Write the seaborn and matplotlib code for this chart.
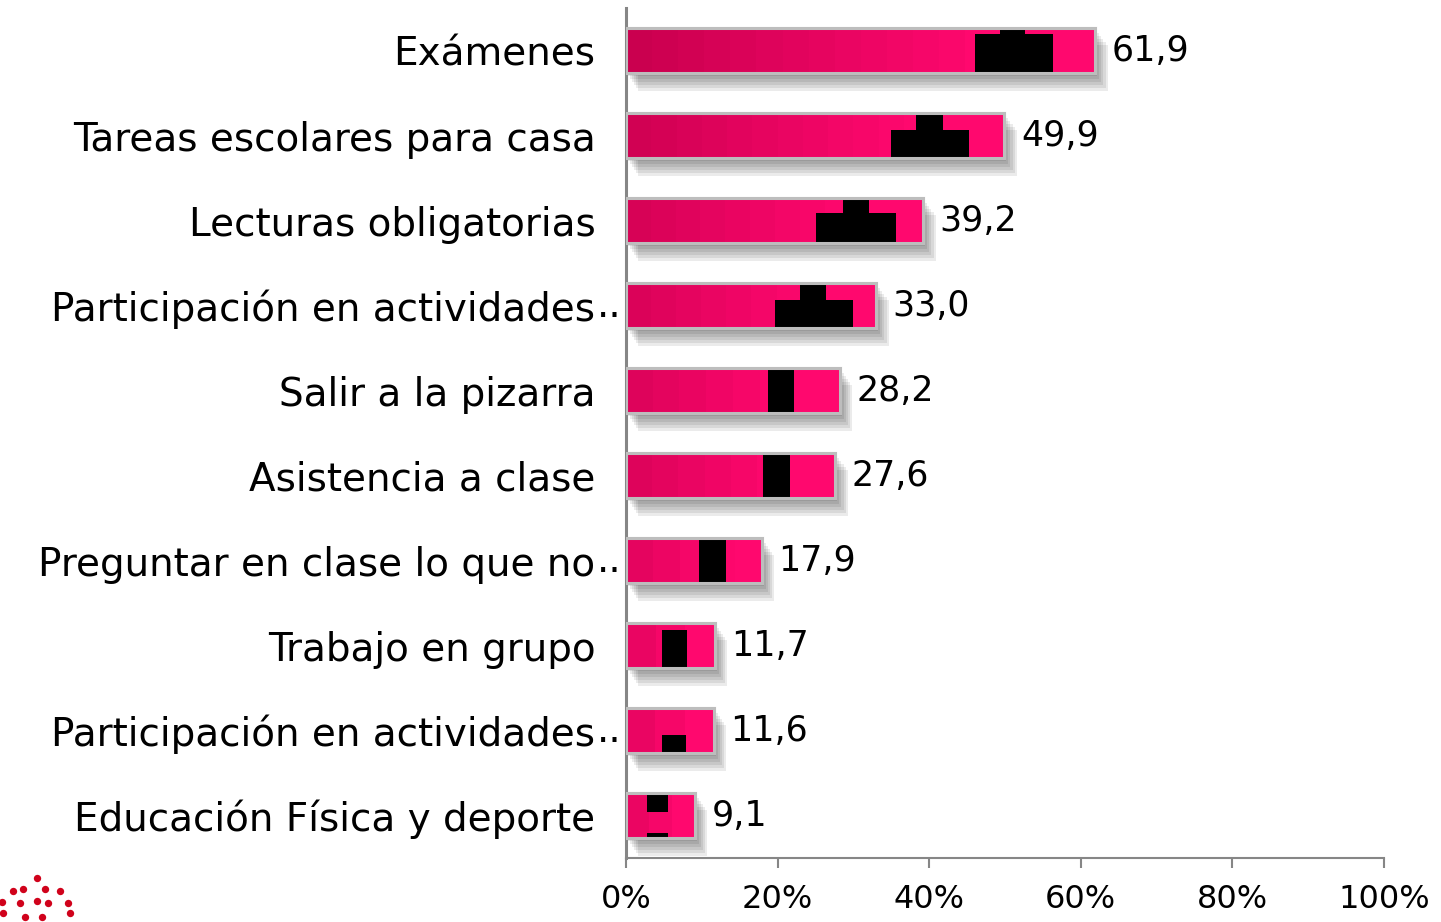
import matplotlib
matplotlib.use('Agg')
import matplotlib.pyplot as plt
import matplotlib.patheffects as pe
from matplotlib.patches import Rectangle
import seaborn as sns
import numpy as np
import pandas as pd

# data (percent)
labels = ['Exámenes', 'Tareas escolares para casa', 'Lecturas obligatorias',
          'Participación en actividades', 'Salir a la pizarra', 'Asistencia a clase',
          'Preguntar en clase lo que no', 'Trabajo en grupo',
          'Participación en actividades', 'Educación Física y deporte']
truncated = [False, False, False, True, False, False, True, False, True, False]
values = [61.9, 49.9, 39.2, 33.0, 28.2, 27.6, 17.9, 11.7, 11.6, 9.1]
xticks = [0, 20, 40, 60, 80, 100]

# black pictogram pieces inside the bars (x in %, top/bottom as fraction of bar height)
block_row = [0, 0, 1, 1, 2, 2, 3, 3, 4, 5, 6, 7, 8, 9, 9]
block_start = [49.3, 46.0, 38.3, 35.0, 28.6, 25.1, 23.0, 19.7, 18.7, 18.1, 9.7, 4.7, 4.7, 2.8, 2.8]
block_end = [52.7, 56.3, 41.8, 45.2, 32.1, 35.6, 26.4, 30.0, 22.2, 21.7, 13.2, 8.0, 7.9, 5.6, 5.6]
block_top = [0.0, 0.13, 0.0, 0.39, 0.0, 0.33, 0.02, 0.39, 0.0, 0.0, 0.0, 0.17, 0.59, 0.02, 0.89]
block_bottom = [0.13, 1.0, 0.39, 1.0, 0.33, 1.0, 0.39, 1.0, 1.0, 1.0, 1.0, 1.0, 1.0, 0.43, 1.0]

sns.set_style('white')
plt.rcParams['font.family'] = ['DejaVu Sans']
plt.rcParams['text.color'] = 'black'

df = pd.DataFrame({'row': range(len(values)), 'value': values})
BAR_H = 0.54
dark = np.array([200, 0, 78]) / 255
bright = np.array([255, 8, 110]) / 255

fig, ax = plt.subplots(figsize=(14.41, 9.22), dpi=100)
fig.subplots_adjust(left=0.4344, right=0.9604, bottom=0.0694, top=0.9913)

sns.barplot(data=df, x='value', y='row', orient='h', color='#FF086E',
            edgecolor='#BDBDBD', linewidth=2.2, width=BAR_H, ax=ax, zorder=1)
bars = ax.containers[0]

# soft drop shadow: several faint offset copies
shadow = [pe.SimplePatchShadow(offset=(o, -o * 1.4), shadow_rgbFace='k', alpha=0.08)
          for o in (1.5, 3, 4.5, 6, 7.5, 9)]
for p in bars:
    p.set_path_effects(shadow + [pe.Normal()])

# blocky gradient fill, like the stretched picture fill in the original
vmax = max(values)
for p, v in zip(bars, values):
    x0, y0, w, h = p.get_x(), p.get_y(), p.get_width(), p.get_height()
    n = max(2, int(round(v / 3.4)))
    t = (np.arange(n) + 0.5) / n
    k = np.clip(1 - t / 0.75, 0, 1) * (0.35 + 0.65 * v / vmax)
    cols = bright[None, :] + (dark - bright)[None, :] * k[:, None]
    ax.imshow(cols[None, :, :], extent=[x0, x0 + w, y0 + h, y0], aspect='auto',
              interpolation='nearest', zorder=2)

for r, s, e, tp, bt in zip(block_row, block_start, block_end, block_top, block_bottom):
    yc = r - BAR_H / 2 + BAR_H * (tp + bt) / 2
    ax.barh(yc, e - s, left=s, height=BAR_H * (bt - tp), color='black',
            linewidth=0, zorder=3)

# bar outlines on top
for p in bars:
    ax.add_patch(Rectangle((p.get_x(), p.get_y()), p.get_width(), p.get_height(),
                           fill=False, edgecolor='#BDBDBD', linewidth=2.2, zorder=4))

ax.bar_label(bars, labels=[f'{v:.1f}'.replace('.', ',') for v in values],
             padding=12, fontsize=25, color='black')

ax.set_xlim(0, 100)
ax.set_ylim(len(values) - 0.5, -0.5)
ax.set_xticks(xticks)
ax.set_xticklabels([f'{t}%' for t in xticks], fontsize=23, color='black')
ax.set_yticks(range(len(labels)))
ax.set_yticklabels(labels, fontsize=28, color='black')
for i, tr in enumerate(truncated):
    if tr:
        ax.annotate('..', xy=(0, i), xytext=(-3, 0), textcoords='offset points',
                    ha='right', va='center', fontsize=28, color='black')
ax.set_xlabel('')
ax.set_ylabel('')

ax.tick_params(axis='y', left=False, length=0, pad=22)
ax.tick_params(axis='x', bottom=True, direction='out', length=7, width=1.5,
               color='#868686', pad=12)
sns.despine(ax=ax, top=True, right=True)
for side in ('left', 'bottom'):
    ax.spines[side].set_color('#868686')
ax.spines['left'].set_linewidth(2.2)
ax.spines['bottom'].set_linewidth(1.5)

# logo dots cut off at the bottom-left corner
logo = fig.add_axes([0, 0, 0.055, 0.055])
lx = [37, 13, 23, 45, 60, 2, 20, 37, 48, 68, 3, 25, 42, 70]
ly = [878, 891, 889, 889, 891, 902, 903, 901, 903, 903, 913, 917, 917, 913]
logo.scatter(lx, ly, s=28, color='#D0021B', linewidths=0)
logo.set_xlim(0, 79)
logo.set_ylim(922, 871)
logo.axis('off')

fig.savefig('out.png', dpi=100)
